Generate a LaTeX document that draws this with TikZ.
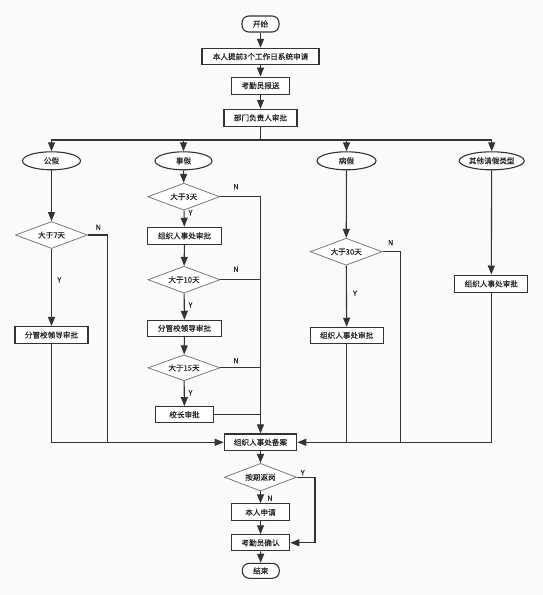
\documentclass[tikz,border=0pt]{standalone}
\usepackage{fontspec}
\newfontfamily\cjk[FakeBold=0.35]{Noto Sans CJK SC}
\usetikzlibrary{shapes.geometric,arrows.meta}
\definecolor{ln}{HTML}{333333}
\definecolor{dg}{HTML}{7A7A7A}
\definecolor{bg}{HTML}{FAFAFA}
\tikzset{
  every node/.style={font=\cjk\fontsize{7.6}{9}\selectfont, text=black!85},
  box/.style={draw=ln, line width=1.1pt, fill=white, inner sep=0pt, minimum height=17pt},
  term/.style={box, rounded corners=7pt, minimum height=16pt},
  oval/.style={ellipse, draw=ln, line width=1.1pt, fill=white, inner sep=0pt, minimum height=18pt},
  dia/.style={diamond, draw=dg, line width=0.8pt, fill=white, inner sep=0pt, shape aspect=2.6, minimum width=72pt, minimum height=27pt},
  lab/.style={font=\cjk\fontsize{7.2}{8}\selectfont},
  ln/.style={draw=ln, line width=1.1pt},
  arr/.style={ln, -{Triangle[length=9pt,width=7pt]}}
}
\begin{document}
\begin{tikzpicture}[x=1pt,y=-1pt]
\fill[bg] (0,0) rectangle (543,595);
\useasboundingbox (0,0) rectangle (543,595);
% top
\node[term, minimum width=37pt] (st) at (260.5,24) {开始};
\node[box, minimum width=117pt, minimum height=16.5pt] (n1) at (260.5,56.6) {本人提前3个工作日系统申请};
\node[box, minimum width=58pt] (n2) at (260.5,85.6) {考勤员报送};
\node[box, minimum width=73pt] (n3) at (260.5,117.8) {部门负责人审批};
\coordinate (cTop) at (260.5,140);
% categories
\node[oval, minimum width=58pt] (e1) at (51.5,160.8) {公假};
\node[oval, minimum width=57pt] (e2) at (183.5,160.8) {事假};
\node[oval, minimum width=59pt] (e3) at (346.5,160.8) {病假};
\node[oval, minimum width=65pt] (e4) at (491.7,160.8) {其他请假类型};
% left column
\node[dia] (d7) at (51.5,235) {大于7天};
\node[box, minimum width=73pt] (b1) at (51.5,335) {分管校领导审批};
% middle column
\node[dia] (d3) at (183.8,196.7) {大于3天};
\node[box, minimum width=74pt] (m1) at (184.5,235.8) {组织人事处审批};
\node[dia] (d10) at (184,279.7) {大于10天};
\node[box, minimum width=74pt, minimum height=16pt] (m2) at (184.5,328.3) {分管校领导审批};
\node[dia, minimum height=26pt] (d15) at (184,367.8) {大于15天};
\node[box, minimum width=58pt, minimum height=16pt] (m3) at (184.5,414.7) {校长审批};
% right columns
\node[dia] (d30) at (346.2,251.7) {大于30天};
\node[box, minimum width=73pt, minimum height=16pt] (s1) at (346.7,335.3) {组织人事处审批};
\node[box, minimum width=73pt, minimum height=17.5pt] (o1) at (491.3,283.8) {组织人事处审批};
% bottom
\node[box, minimum width=72.5pt, minimum height=16.7pt] (bk) at (260.5,442.3) {组织人事处备案};
\node[dia, minimum height=27.7pt] (dq) at (260.5,477.2) {按期返岗};
\node[box, minimum width=58pt] (sq) at (260.5,512.3) {本人申请};
\node[box, minimum width=58.5pt, minimum height=16pt] (kq) at (260.5,542.8) {考勤员确认};
\node[term, minimum width=37pt, minimum height=15pt] (en) at (260.8,570.8) {结束};
% helper coordinates
\coordinate (cL) at (107.3,442.3);
\coordinate (cM) at (400.7,442.3);
\coordinate (cQ) at (315,477.2);
% labels
\node[lab] (yN7) at (98.3,227.3) {N};
\node[lab] (yY7) at (59.3,280) {Y};
\node[lab] (yN3) at (236,186.7) {N};
\node[lab] (yY3) at (190.5,212.7) {Y};
\node[lab] (yN10) at (236,269.3) {N};
\node[lab] (yY10) at (190.5,305) {Y};
\node[lab] (yN15) at (236,360.7) {N};
\node[lab] (yY15) at (190.5,392.7) {Y};
\node[lab] (yN30) at (390.7,242.7) {N};
\node[lab] (yY30) at (355,293.3) {Y};
\node[lab] (yYq) at (302.7,472.7) {Y};
\node[lab] (yNq) at (270,498.3) {N};
% connectors
\draw[arr] (st) -- (n1);
\draw[arr] (n1) -- (n2);
\draw[arr] (n2) -- (n3);
\draw[arr] (n3.south) -- (cTop) -| (e1.north);
\draw[arr] (n3.south) -- (cTop) -| (e2.north);
\draw[arr] (n3.south) -- (cTop) -| (e3.north);
\draw[arr] (n3.south) -- (cTop) -| (e4.north);
% left
\draw[arr] (e1) -- (d7);
\draw[arr] (d7) -- (b1);
\draw[ln] (d7.east) -| (cL);
\draw[arr] (b1.south) |- (bk.west);
% middle
\draw[arr] (e2) -- (d3);
\draw[arr] (d3) -- (m1);
\draw[arr] (m1) -- (d10);
\draw[arr] (d10) -- (m2);
\draw[arr] (m2) -- (d15);
\draw[arr] (d15) -- (m3);
\draw[arr] (d3.east) -| (bk.north);
\draw[ln] (d10.east) -- (d10.east -| bk.north);
\draw[ln] (d15.east) -- (d15.east -| bk.north);
\draw[ln] (m3.east) -- (m3.east -| bk.north);
% right
\draw[arr] (e3) -- (d30);
\draw[arr] (d30) -- (s1);
\draw[ln] (d30.east) -| (cM);
\draw[ln] (s1.south) -- (s1.south |- bk.east);
\draw[arr] (e4) -- (o1);
\draw[arr] (o1.south) |- (bk.east);
% bottom
\draw[arr] (bk) -- (dq);
\draw[arr] (dq) -- (sq);
\draw[arr] (sq) -- (kq);
\draw[arr] (dq.east) -- (cQ) |- (kq.east);
\draw[arr] (kq) -- (en);
\end{tikzpicture}
\end{document}
